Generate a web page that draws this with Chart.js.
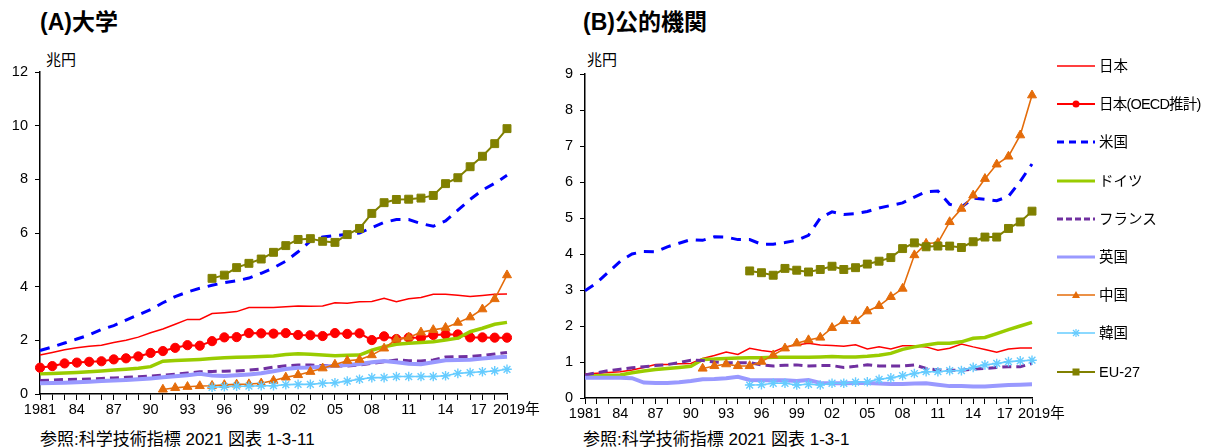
<!DOCTYPE html>
<html lang="ja">
<head>
<meta charset="utf-8">
<title>研究開発費の推移（大学・公的機関）</title>
<script src="https://cdn.jsdelivr.net/npm/chart.js@4/dist/chart.umd.min.js"></script>
<style>
  html, body { margin: 0; padding: 0; background: #fff; }
  body { width: 1205px; height: 448px; position: relative; overflow: hidden;
         font-family: "Liberation Sans", "Noto Sans CJK JP", sans-serif; color: #000; }
  .abs { position: absolute; white-space: nowrap; }
  .title { font-size: 23px; font-weight: bold; line-height: 1; }
  .unit { font-size: 15px; line-height: 1; }
  .note { font-size: 17px; line-height: 1; }
  canvas { position: absolute; top: 0; }
  #legend { position: absolute; left: 1055px; top: 0; z-index: 2; }
  .item { position: absolute; left: 0; height: 20px; width: 150px; white-space: nowrap; }
  .item svg { position: absolute; left: 0; top: 0; }
  .item span { position: absolute; left: 44px; top: 1px; font-size: 14.5px; line-height: 18px; white-space: nowrap; }
  .item span.tight { letter-spacing: -0.8px; }
</style>
</head>
<body>

<div class="abs title" style="left:40px; top:11px;">(A)大学</div>
<div class="abs title" style="left:583px; top:11px;">(B)公的機関</div>
<div class="abs unit" style="left:46px; top:52px;">兆円</div>
<div class="abs unit" style="left:587px; top:52px;">兆円</div>
<div class="abs note" style="left:40px; top:431px;">参照:科学技術指標 2021 図表 1-3-11</div>
<div class="abs note" style="left:583px; top:431px;">参照:科学技術指標 2021 図表 1-3-1</div>

<canvas id="univ" width="545" height="448" style="left:0px; width:545px; height:448px;"></canvas>
<canvas id="pub" width="530" height="448" style="left:545px; width:530px; height:448px;"></canvas>

<div id="legend"></div>

<script>
// ---- categories ----
const years = [1981, 1982, 1983, 1984, 1985, 1986, 1987, 1988, 1989, 1990,
               1991, 1992, 1993, 1994, 1995, 1996, 1997, 1998, 1999, 2000,
               2001, 2002, 2003, 2004, 2005, 2006, 2007, 2008, 2009, 2010,
               2011, 2012, 2013, 2014, 2015, 2016, 2017, 2018, 2019];

const seriesNames = ['日本', '日本(OECD推計)', '米国', 'ドイツ', 'フランス', '英国', '中国', '韓国', 'EU-27'];

// ---- (A) university R&D expenditure, trillion yen ----
const japanUniv = [1.45, 1.55, 1.65, 1.72, 1.78, 1.82, 1.92, 2.0, 2.12, 2.28,
                   2.42, 2.6, 2.78, 2.78, 3.0, 3.03, 3.07, 3.22, 3.22, 3.22,
                   3.25, 3.28, 3.27, 3.28, 3.4, 3.38, 3.44, 3.45, 3.57, 3.44,
                   3.55, 3.6, 3.72, 3.72, 3.68, 3.63, 3.67, 3.72, 3.73];
const japanOecdUniv = [0.98, 1.04, 1.14, 1.17, 1.2, 1.22, 1.29, 1.33, 1.4, 1.53,
                       1.6, 1.72, 1.82, 1.8, 1.97, 2.11, 2.12, 2.27, 2.26, 2.25,
                       2.27, 2.2, 2.19, 2.16, 2.27, 2.24, 2.26, 2.01, 2.15, 2.05,
                       2.1, 2.1, 2.2, 2.22, 2.22, 2.11, 2.11, 2.1, 2.1];
const usUniv = [1.62, 1.75, 1.9, 2.05, 2.2, 2.4, 2.55, 2.75, 2.95, 3.15,
                3.4, 3.63, 3.8, 3.94, 4.05, 4.15, 4.22, 4.32, 4.5, 4.7,
                4.95, 5.3, 5.7, 5.85, 5.9, 5.95, 6.0, 6.2, 6.4, 6.5,
                6.5, 6.35, 6.25, 6.45, 6.85, 7.25, 7.6, 7.85, 8.15];
const germanyUniv = [0.75, 0.76, 0.78, 0.8, 0.83, 0.86, 0.89, 0.92, 0.96, 1.02,
                     1.22, 1.25, 1.27, 1.29, 1.32, 1.35, 1.37, 1.38, 1.4, 1.42,
                     1.47, 1.5, 1.48, 1.45, 1.43, 1.44, 1.45, 1.63, 1.76, 1.85,
                     1.89, 1.92, 1.95, 2.01, 2.08, 2.32, 2.45, 2.6, 2.67];
const franceUniv = [0.5, 0.52, 0.54, 0.55, 0.56, 0.58, 0.6, 0.62, 0.64, 0.67,
                    0.7, 0.74, 0.78, 0.83, 0.84, 0.85, 0.86, 0.89, 0.93, 1.0,
                    1.05, 1.08, 1.08, 1.06, 1.04, 1.04, 1.08, 1.14, 1.2, 1.27,
                    1.24, 1.23, 1.27, 1.38, 1.39, 1.4, 1.44, 1.49, 1.55];
const ukUniv = [0.4, 0.41, 0.42, 0.44, 0.46, 0.48, 0.5, 0.52, 0.55, 0.58,
                0.62, 0.66, 0.7, 0.75, 0.69, 0.67, 0.7, 0.73, 0.77, 0.85,
                0.93, 0.98, 0.99, 1.02, 1.05, 1.08, 1.12, 1.18, 1.23, 1.18,
                1.13, 1.11, 1.18, 1.26, 1.27, 1.28, 1.32, 1.36, 1.39];
const chinaUniv = [null, null, null, null, null, null, null, null, null, null,
                   0.17, 0.23, 0.27, 0.3, 0.31, 0.34, 0.36, 0.37, 0.4, 0.5,
                   0.62, 0.71, 0.83, 0.96, 1.1, 1.24, 1.28, 1.45, 1.7, 2.04,
                   2.11, 2.3, 2.39, 2.47, 2.66, 2.86, 3.16, 3.54, 4.43];
const koreaUniv = [null, null, null, null, null, null, null, null, null, null,
                   null, null, null, null, 0.25, 0.27, 0.29, 0.29, 0.31, 0.31,
                   0.35, 0.36, 0.36, 0.4, 0.42, 0.48, 0.55, 0.61, 0.61, 0.65,
                   0.65, 0.65, 0.65, 0.68, 0.77, 0.8, 0.83, 0.86, 0.92];
const eu27Univ = [null, null, null, null, null, null, null, null, null, null,
                  null, null, null, null, 4.31, 4.43, 4.71, 4.87, 5.03, 5.28,
                  5.53, 5.76, 5.79, 5.69, 5.65, 5.94, 6.17, 6.73, 7.13, 7.25,
                  7.26, 7.3, 7.4, 7.84, 8.06, 8.47, 8.86, 9.33, 9.89];

// ---- (B) public research institutions R&D expenditure, trillion yen ----
const japanPub = [0.67, 0.69, 0.71, 0.73, 0.78, 0.85, 0.93, 0.93, 0.95, 0.96,
                  1.1, 1.18, 1.28, 1.21, 1.38, 1.32, 1.28, 1.42, 1.47, 1.52,
                  1.47, 1.46, 1.44, 1.48, 1.36, 1.42, 1.36, 1.45, 1.45, 1.42,
                  1.33, 1.38, 1.5, 1.42, 1.35, 1.27, 1.36, 1.39, 1.39];
const usPub = [2.98, 3.2, 3.5, 3.8, 4.0, 4.07, 4.06, 4.2, 4.3, 4.4,
               4.38, 4.48, 4.47, 4.4, 4.4, 4.27, 4.27, 4.32, 4.38, 4.52,
               5.0, 5.17, 5.1, 5.12, 5.18, 5.28, 5.35, 5.42, 5.58, 5.73,
               5.75, 5.38, 5.3, 5.55, 5.52, 5.48, 5.6, 6.02, 6.5];
const germanyPub = [0.61, 0.62, 0.63, 0.64, 0.7, 0.75, 0.79, 0.82, 0.85, 0.88,
                    1.07, 1.08, 1.1, 1.11, 1.12, 1.12, 1.13, 1.13, 1.13, 1.13,
                    1.14, 1.15, 1.14, 1.14, 1.16, 1.19, 1.24, 1.35, 1.42, 1.47,
                    1.52, 1.52, 1.56, 1.66, 1.68, 1.79, 1.9, 2.0, 2.1];
const francePub = [0.64, 0.7, 0.76, 0.8, 0.84, 0.87, 0.9, 0.93, 0.98, 1.05,
                   1.04, 1.0, 0.98, 0.98, 0.98, 0.92, 0.89, 0.91, 0.92, 0.89,
                   0.9, 0.9, 0.85, 0.88, 0.92, 0.89, 0.89, 0.89, 0.92, 0.82,
                   0.78, 0.77, 0.77, 0.8, 0.82, 0.85, 0.87, 0.87, 0.96];
const ukPub = [0.56, 0.56, 0.56, 0.56, 0.55, 0.43, 0.42, 0.42, 0.44, 0.47,
               0.52, 0.53, 0.55, 0.59, 0.5, 0.49, 0.49, 0.49, 0.47, 0.5,
               0.42, 0.41, 0.41, 0.42, 0.42, 0.4, 0.39, 0.39, 0.4, 0.41,
               0.37, 0.33, 0.33, 0.32, 0.32, 0.34, 0.36, 0.37, 0.38];
const chinaPub = [null, null, null, null, null, null, null, null, null, null,
                  0.82, 0.89, 0.94, 0.89, 0.89, 1.01, 1.19, 1.38, 1.52, 1.61,
                  1.68, 1.95, 2.14, 2.14, 2.41, 2.56, 2.81, 3.04, 3.97, 4.29,
                  4.31, 4.89, 5.26, 5.63, 6.09, 6.49, 6.71, 7.3, 8.41];
const koreaPub = [null, null, null, null, null, null, null, null, null, null,
                  null, null, null, null, 0.36, 0.37, 0.41, 0.41, 0.36, 0.38,
                  0.36, 0.41, 0.41, 0.44, 0.45, 0.52, 0.56, 0.62, 0.68, 0.73,
                  0.73, 0.76, 0.76, 0.85, 0.92, 0.96, 1.01, 1.03, 1.05];
const eu27Pub = [null, null, null, null, null, null, null, null, null, null,
                 null, null, null, null, 3.53, 3.48, 3.41, 3.6, 3.55, 3.5,
                 3.57, 3.66, 3.57, 3.62, 3.72, 3.8, 3.9, 4.15, 4.31, 4.2,
                 4.22, 4.22, 4.18, 4.34, 4.47, 4.47, 4.71, 4.89, 5.19];

// ---- series styling ----
const styles = {
  '日本':          { color: '#FF0000', width: 1.5, dash: [], point: false },
  '日本(OECD推計)': { color: '#FF0000', width: 2, dash: [], point: 'circle', r: 4.6, fill: '#FF0000' },
  '米国':          { color: '#0000FF', width: 3, dash: [10, 8], point: false },
  'ドイツ':        { color: '#99CC00', width: 3.5, dash: [], point: false },
  'フランス':      { color: '#7030A0', width: 3, dash: [9, 5], point: false },
  '英国':          { color: '#9999FF', width: 4, dash: [], point: false },
  '中国':          { color: '#E46C0A', width: 1.6, dash: [], point: 'triangle', r: 5.2, fill: '#E46C0A' },
  '韓国':          { color: '#66CCFF', width: 1.6, dash: [], point: 'star', r: 4.8, fill: '#66CCFF' },
  'EU-27':         { color: '#808000', width: 2, dash: [], point: 'rect', r: 5.6, fill: '#808000' }
};

function makeDataset(name, data, idx) {
  const s = styles[name];
  return {
    label: name,
    data: data,
    borderColor: s.color,
    backgroundColor: s.fill || s.color,
    borderWidth: s.width,
    borderDash: s.dash,
    tension: 0,
    spanGaps: false,
    pointStyle: s.point || 'circle',
    pointRadius: s.point ? s.r : 0,
    pointBorderWidth: s.point === 'star' ? 1.4 : 1,
    pointBorderColor: s.color,
    pointBackgroundColor: s.fill || s.color,
    order: 20 - idx // later series are drawn on top
  };
}

const axisFont = { family: '"Liberation Sans", "Noto Sans CJK JP", sans-serif', size: 14.5 };

// Year labels every three years; "17" and the final "2019年" are padded
// with spaces on opposite sides so the two labels do not run together.
function xTickLabel(value, index) {
  const y = years[index];
  if (y === 2019) return '\u2002\u2002 2019年';
  if (y === 2017) return '17\u2002';
  if (y === 1981) return '1981';
  if ((y - 1981) % 3 === 0) return String(y % 100).padStart(2, '0');
  return '';
}

function buildChart(canvasId, datasets, yMax, yStep, pad) {
  return new Chart(document.getElementById(canvasId), {
    type: 'line',
    data: { labels: years.map(String), datasets: datasets },
    options: {
      responsive: false,
      animation: false,
      events: [],
      layout: { padding: pad },
      plugins: { legend: { display: false }, tooltip: { enabled: false } },
      scales: {
        x: {
          type: 'category',
          offset: false,
          grid: { display: true, drawOnChartArea: false, drawTicks: true, tickLength: 6, color: '#000', lineWidth: 1 },
          border: { display: true, color: '#000', width: 1.5 },
          ticks: { autoSkip: false, maxRotation: 0, minRotation: 0, padding: 1, color: '#000', font: axisFont, callback: xTickLabel },
          afterFit: (s) => { s.height = 30; }
        },
        y: {
          min: 0, max: yMax,
          grid: { display: true, drawOnChartArea: false, drawTicks: true, tickLength: 5, color: '#000', lineWidth: 1 },
          border: { display: true, color: '#000', width: 1.5 },
          ticks: { stepSize: yStep, padding: 7, color: '#000', font: axisFont },
          afterFit: (s) => { s.width = 40; }
        }
      }
    }
  });
}

const univSeries = [japanUniv, japanOecdUniv, usUniv, germanyUniv, franceUniv, ukUniv, chinaUniv, koreaUniv, eu27Univ];
const pubSeries  = [japanPub, null, usPub, germanyPub, francePub, ukPub, chinaPub, koreaPub, eu27Pub];

const univSets = seriesNames.map((n, i) => makeDataset(n, univSeries[i], i));
const pubSets = [];
seriesNames.forEach((n, i) => { if (pubSeries[i]) pubSets.push(makeDataset(n, pubSeries[i], i)); });

buildChart('univ', univSets, 12, 2, { top: 72, left: 0, right: 38, bottom: 24 });
buildChart('pub', pubSets, 9, 1, { top: 74, left: 0, right: 43, bottom: 20 });

// ---- legend (shared by both panels) ----
const legend = document.getElementById('legend');
const NS = 'http://www.w3.org/2000/svg';
seriesNames.forEach((name, i) => {
  const s = styles[name];
  const item = document.createElement('div');
  item.className = 'item';
  item.style.top = (56 + i * 38.2) + 'px';
  const svg = document.createElementNS(NS, 'svg');
  svg.setAttribute('width', '42'); svg.setAttribute('height', '20');
  const line = document.createElementNS(NS, 'line');
  line.setAttribute('x1', '2'); line.setAttribute('x2', '40');
  line.setAttribute('y1', '10'); line.setAttribute('y2', '10');
  line.setAttribute('stroke', s.color);
  line.setAttribute('stroke-width', String(Math.min(s.width, 3)));
  if (s.dash.length) line.setAttribute('stroke-dasharray', name === '米国' ? '7,5' : '6,3');
  svg.appendChild(line);
  if (s.point === 'circle') {
    const c = document.createElementNS(NS, 'circle');
    c.setAttribute('cx', '21'); c.setAttribute('cy', '10'); c.setAttribute('r', '3.5');
    c.setAttribute('fill', s.fill); svg.appendChild(c);
  } else if (s.point === 'triangle') {
    const p = document.createElementNS(NS, 'polygon');
    p.setAttribute('points', '21,6 25,13 17,13'); p.setAttribute('fill', s.fill); svg.appendChild(p);
  } else if (s.point === 'rect') {
    const r = document.createElementNS(NS, 'rect');
    r.setAttribute('x', '17.5'); r.setAttribute('y', '6.5'); r.setAttribute('width', '7'); r.setAttribute('height', '7');
    r.setAttribute('fill', s.fill); svg.appendChild(r);
  } else if (s.point === 'star') {
    [[17, 10, 25, 10], [21, 6, 21, 14], [18, 7, 24, 13], [18, 13, 24, 7]].forEach(a => {
      const l = document.createElementNS(NS, 'line');
      l.setAttribute('x1', a[0]); l.setAttribute('y1', a[1]); l.setAttribute('x2', a[2]); l.setAttribute('y2', a[3]);
      l.setAttribute('stroke', s.color); l.setAttribute('stroke-width', '1.2'); svg.appendChild(l);
    });
  }
  item.appendChild(svg);
  const label = document.createElement('span');
  label.textContent = name;
  if (name.length > 8) label.className = 'tight';
  item.appendChild(label);
  legend.appendChild(item);
});
</script>
</body>
</html>
